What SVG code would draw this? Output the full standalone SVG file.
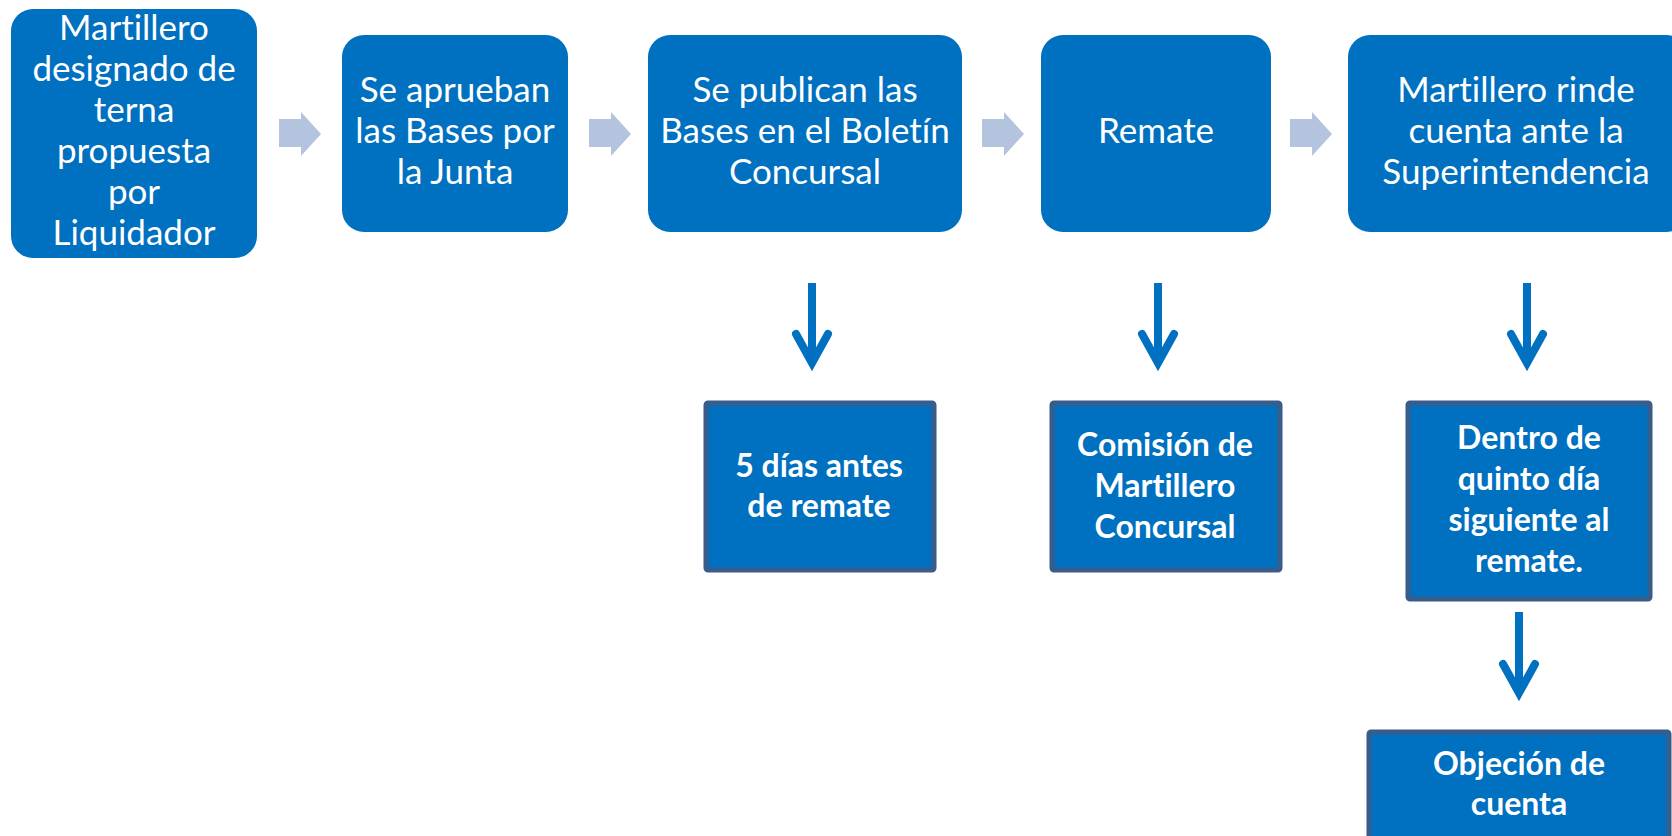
<svg xmlns="http://www.w3.org/2000/svg" width="1672" height="836" viewBox="0 0 1672 836">
<defs>
<style>
.step{fill:#0070C0;}
.sub{fill:#0070C0;stroke:#385D8A;stroke-width:5;}
.t{font-family:Lato,"Liberation Sans",sans-serif;font-size:35px;fill:#FFFFFF;text-anchor:middle;font-variant-ligatures:none;font-feature-settings:"liga" 0,"clig" 0;}
.tb{font-family:Lato,"Liberation Sans",sans-serif;font-size:32px;font-weight:bold;fill:#FFFFFF;text-anchor:middle;font-variant-ligatures:none;font-feature-settings:"liga" 0,"clig" 0;}
.blk{fill:#B4C3DE;}
.shaft{fill:none;stroke:#0070C0;stroke-width:8;stroke-linecap:butt;}
.head{fill:none;stroke:#0070C0;stroke-width:8;stroke-linecap:round;stroke-linejoin:miter;stroke-miterlimit:10;}
</style>
<path id="blockArrow" d="M0 7 H22 V0 L42 22 L22 44 V35 H0 Z"/>
</defs>
<rect width="1672" height="836" fill="#FFFFFF"/>
<g id="connectors">
<use href="#blockArrow" class="blk" x="279" y="112"/>
<use href="#blockArrow" class="blk" x="589" y="112"/>
<use href="#blockArrow" class="blk" x="982" y="112"/>
<use href="#blockArrow" class="blk" x="1290" y="112"/>
<path class="shaft" d="M812 283 V362"/>
<path class="head" d="M796 334 L812 363 L828 334"/>
<path class="shaft" d="M1158 283 V362"/>
<path class="head" d="M1142 334 L1158 363 L1174 334"/>
<path class="shaft" d="M1527 283 V362"/>
<path class="head" d="M1511 334 L1527 363 L1543 334"/>
<path class="shaft" d="M1519 612 V692"/>
<path class="head" d="M1503 664 L1519 693 L1535 664"/>
</g>
<g id="n1">
<rect class="step" x="11" y="9" width="246" height="249" rx="22"/>
<text class="t" x="134" y="40">Martillero</text>
<text class="t" x="134" y="81">designado de</text>
<text class="t" x="134" y="122">terna</text>
<text class="t" x="134" y="163">propuesta</text>
<text class="t" x="134" y="204">por</text>
<text class="t" x="134" y="245">Liquidador</text>
</g>
<g id="n2">
<rect class="step" x="342" y="35" width="226" height="197" rx="22"/>
<text class="t" x="455" y="102">Se aprueban</text>
<text class="t" x="455" y="143">las Bases por</text>
<text class="t" x="455" y="184">la Junta</text>
</g>
<g id="n3">
<rect class="step" x="648" y="35" width="314" height="197" rx="22"/>
<text class="t" x="805" y="102">Se publican las</text>
<text class="t" x="805" y="143">Bases en el Boletín</text>
<text class="t" x="805" y="184">Concursal</text>
</g>
<g id="n4">
<rect class="step" x="1041" y="35" width="230" height="197" rx="22"/>
<text class="t" x="1156" y="143">Remate</text>
</g>
<g id="n5">
<rect class="step" x="1348" y="35" width="340" height="197" rx="22"/>
<text class="t" x="1516" y="102">Martillero rinde</text>
<text class="t" x="1516" y="143">cuenta ante la</text>
<text class="t" x="1516" y="184">Superintendencia</text>
</g>
<g id="n6">
<rect class="sub" x="706" y="403" width="228" height="167" rx="2"/>
<text class="tb" x="819" y="477">5 días antes</text>
<text class="tb" x="819" y="517">de remate</text>
</g>
<g id="n7">
<rect class="sub" x="1052" y="403" width="228" height="167" rx="2"/>
<text class="tb" x="1165" y="456">Comisión de</text>
<text class="tb" x="1165" y="497">Martillero</text>
<text class="tb" x="1165" y="538">Concursal</text>
</g>
<g id="n8">
<rect class="sub" x="1408" y="403" width="242" height="196" rx="2"/>
<text class="tb" x="1529" y="449">Dentro de</text>
<text class="tb" x="1529" y="490">quinto día</text>
<text class="tb" x="1529" y="531">siguiente al</text>
<text class="tb" x="1529" y="572">remate.</text>
</g>
<g id="n9">
<rect class="sub" x="1369" y="732" width="300" height="130" rx="2"/>
<text class="tb" x="1519" y="775">Objeción de</text>
<text class="tb" x="1519" y="815">cuenta</text>
</g>
</svg>
